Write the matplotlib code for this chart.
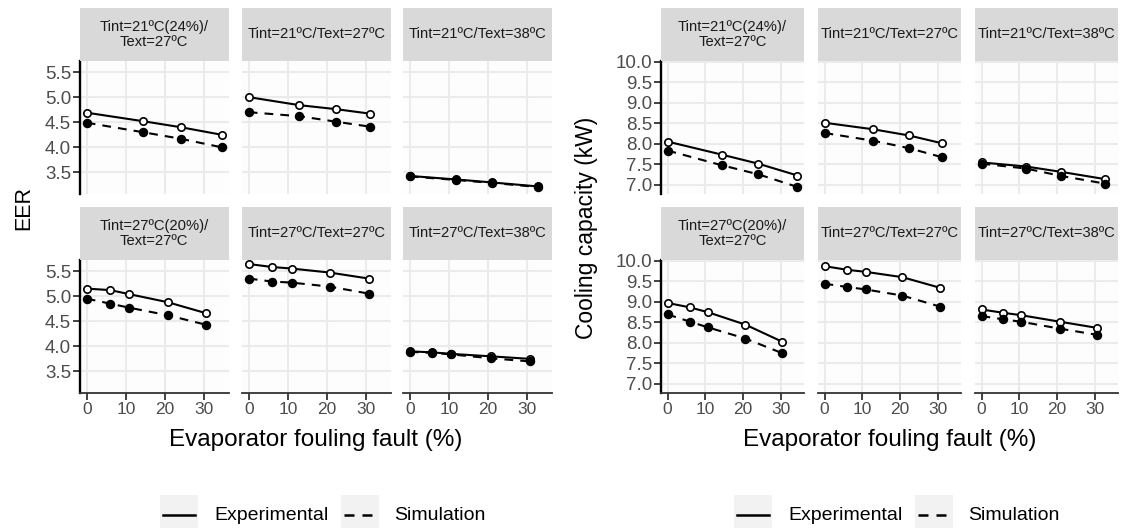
"""EER and cooling capacity vs evaporator fouling fault, faceted by test condition."""

import matplotlib

matplotlib.use("Agg")
import matplotlib.pyplot as plt
from matplotlib.lines import Line2D
from matplotlib.patches import Rectangle

plt.rcParams["font.family"] = ["Liberation Sans", "DejaVu Sans"]

# facet titles, row by row
PANEL_TITLES = [
    "Tint=21ºC(24%)/\nText=27ºC",
    "Tint=21ºC/Text=27ºC",
    "Tint=21ºC/Text=38ºC",
    "Tint=27ºC(20%)/\nText=27ºC",
    "Tint=27ºC/Text=27ºC",
    "Tint=27ºC/Text=38ºC",
]

# evaporator fouling fault (%) tested in each panel
FAULT_LEVELS = [
    [0, 14.4, 24.0, 34.4],
    [0, 12.9, 22.3, 31.0],
    [0, 11.8, 21.0, 32.8],
    [0, 6.0, 10.8, 20.6, 30.4],
    [0, 6.0, 10.9, 20.6, 30.6],
    [0, 5.7, 10.5, 20.8, 30.6],
]

EER_EXPERIMENTAL = [
    [4.69, 4.52, 4.40, 4.25],
    [5.00, 4.84, 4.76, 4.67],
    [3.43, 3.36, 3.30, 3.22],
    [5.15, 5.12, 5.04, 4.88, 4.66],
    [5.64, 5.58, 5.55, 5.47, 5.35],
    [3.90, 3.88, 3.85, 3.80, 3.75],
]
EER_SIMULATION = [
    [4.49, 4.30, 4.17, 4.00],
    [4.70, 4.62, 4.51, 4.41],
    [3.42, 3.35, 3.29, 3.21],
    [4.95, 4.85, 4.77, 4.62, 4.43],
    [5.35, 5.29, 5.27, 5.19, 5.05],
    [3.89, 3.87, 3.84, 3.76, 3.70],
]

CAPACITY_EXPERIMENTAL = [
    [8.05, 7.73, 7.51, 7.22],
    [8.51, 8.35, 8.20, 8.01],
    [7.54, 7.44, 7.31, 7.13],
    [8.97, 8.86, 8.74, 8.44, 8.02],
    [9.87, 9.78, 9.73, 9.60, 9.34],
    [8.81, 8.73, 8.67, 8.51, 8.36],
]
CAPACITY_SIMULATION = [
    [7.83, 7.47, 7.25, 6.94],
    [8.26, 8.07, 7.89, 7.67],
    [7.51, 7.39, 7.21, 7.02],
    [8.69, 8.51, 8.37, 8.10, 7.74],
    [9.44, 9.36, 9.30, 9.15, 8.88],
    [8.65, 8.57, 8.51, 8.34, 8.19],
]

X_TICKS = [0, 10, 20, 30]
EER_TICKS = [3.5, 4.0, 4.5, 5.0, 5.5]
CAPACITY_TICKS = [7.0, 7.5, 8.0, 8.5, 9.0, 9.5, 10.0]

W, H = 1123, 528
ROW_TOPS = [61, 260]
PANEL_H = 132.5
STRIP_H = 53.5
TICK_COLOR = "#4D4D4D"
DASH = (0, (4.2, 3.4))


def px_axes(fig, x, y, w, h):
    """Add axes from pixel coordinates measured from the top-left corner."""
    return fig.add_axes([x / W, 1 - (y + h) / H, w / W, h / H])


def draw_chart(fig, lefts, width, experimental, simulation, ylim, yticks, ylabel, ylabel_pos, legend_x):
    for i, title in enumerate(PANEL_TITLES):
        row, col = divmod(i, 3)
        top = ROW_TOPS[row]
        ax = px_axes(fig, lefts[col], top, width, PANEL_H)
        ax.set_facecolor("#FDFDFD")
        x = FAULT_LEVELS[i]
        ax.plot(x, experimental[i], color="black", lw=1.5, marker="o", ms=5.3,
                mfc="white", mec="black", mew=1.2, zorder=3)
        ax.plot(x, simulation[i], color="black", lw=1.5, ls=DASH, marker="o", ms=5.8,
                mfc="black", mec="black", zorder=4)
        ax.set_xlim(-1.72, 36.12)
        ax.set_ylim(*ylim)
        ax.set_xticks(X_TICKS)
        ax.set_yticks(yticks)
        ax.grid(True, color="#EBEBEB", lw=1.5)
        ax.set_axisbelow(True)
        for side in ax.spines:
            ax.spines[side].set_visible(False)
        ax.tick_params(colors="#333333", labelcolor=TICK_COLOR, labelsize=13.5,
                       length=5, width=1.3, pad=1.5)
        ax.tick_params(axis="x", labelsize=12.5)
        if col == 0:
            ax.spines["left"].set_visible(True)
            ax.spines["left"].set_linewidth(1.7)
            ax.set_yticklabels([f"{v:.1f}" for v in yticks])
        else:
            ax.tick_params(axis="y", left=False, labelleft=False)
        if row == 1:
            ax.spines["bottom"].set_visible(True)
            ax.spines["bottom"].set_linewidth(1.3)
            ax.spines["bottom"].set_color("#333333")
        else:
            ax.tick_params(axis="x", bottom=False, labelbottom=False)

        strip = px_axes(fig, lefts[col], top - STRIP_H, width, STRIP_H)
        strip.set_facecolor("#D9D9D9")
        strip.set_xticks([])
        strip.set_yticks([])
        for side in strip.spines:
            strip.spines[side].set_visible(False)
        strip.text(0.5, 0.5, title, ha="center", va="center", fontsize=10.6,
                   color="#1A1A1A", linespacing=1.1, transform=strip.transAxes)

    center = (lefts[0] + lefts[2] + width) / 2
    fig.text(center / W, 1 - 440 / H, "Evaporator fouling fault (%)", ha="center",
             va="center", fontsize=17.5)
    label_x, label_y, label_size = ylabel_pos
    fig.text(label_x / W, 1 - label_y / H, ylabel, rotation=90, ha="center",
             va="center", fontsize=label_size)

    # legend drawn ggplot-style with grey key boxes
    y = 1 - 515 / H
    for offset, text_offset, label, style in [(0, 54, "Experimental", "-"),
                                              (181, 234, "Simulation", (0, (4, 3.2)))]:
        kx = legend_x + offset
        fig.add_artist(Rectangle((kx / W, 1 - 536 / H), 38 / W, 41 / H,
                                 transform=fig.transFigure, facecolor="#F2F2F2",
                                 edgecolor="none"))
        fig.add_artist(Line2D([(kx + 3) / W, (kx + 35) / W], [y, y], color="black",
                              lw=1.8, ls=style, transform=fig.transFigure))
        fig.text((legend_x + text_offset) / W, y, label, ha="left", va="center",
                 fontsize=14)


def main():
    fig = plt.figure(figsize=(W / 100, H / 100), dpi=100)
    draw_chart(fig, [80, 242, 403], 148.5, EER_EXPERIMENTAL, EER_SIMULATION,
               (3.08, 5.72), EER_TICKS, "EER", (24, 208, 15.5), 160)
    draw_chart(fig, [661, 818, 975], 143, CAPACITY_EXPERIMENTAL, CAPACITY_SIMULATION,
               (6.78, 10.02), CAPACITY_TICKS, "Cooling capacity (kW)", (586, 228, 16.5), 734)
    fig.savefig("out.png", dpi=100)


if __name__ == "__main__":
    main()
